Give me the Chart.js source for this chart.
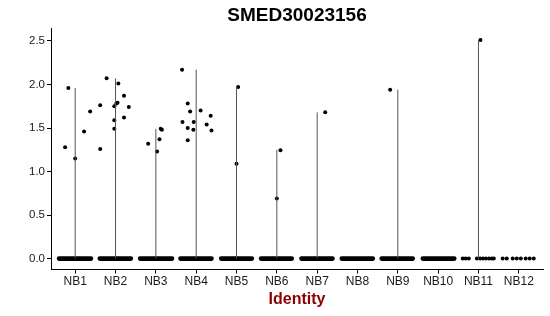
<!DOCTYPE html>
<html>
<head>
<meta charset="utf-8">
<script src="https://cdn.jsdelivr.net/npm/chart.js@4"></script>
<style>
  html, body { margin: 0; padding: 0; background: #fff; }
  #wrap { width: 550px; height: 316px; }
</style>
</head>
<body>
<div id="wrap"><canvas id="chart" width="550" height="316"></canvas></div>
<script>
// Data
const title = 'SMED30023156';
const groups = ['NB1', 'NB2', 'NB3', 'NB4', 'NB5', 'NB6', 'NB7', 'NB8', 'NB9', 'NB10', 'NB11', 'NB12'];
const violinTop = [1.96, 2.07, 1.49, 2.17, 1.97, 1.25, 1.68, 0, 1.94, 0, 2.51, 0];
const yTicks = [0, 0.5, 1.0, 1.5, 2.0, 2.5];

// Dense runs of zero values: jitter range of the points in each group (null = sparse)
const zeroFrom = [-0.40, -0.39, -0.39, -0.39, -0.38, -0.39, -0.39, -0.39, -0.40, -0.38, null, null];
const zeroTo   = [ 0.39,  0.38,  0.40,  0.38,  0.38,  0.37,  0.38,  0.38,  0.37,  0.40, null, null];

// Sparse zero points (NB11, NB12)
const zeroDotGroup  = [11, 11, 11, 11, 11, 11, 11, 11, 11, 11, 12, 12, 12, 12, 12, 12, 12, 12];
const zeroDotOffset = [-0.39, -0.32, -0.24, -0.04, 0.04, 0.11, 0.18, 0.26, 0.33, 0.38,
                       -0.40, -0.30, -0.15, -0.05, 0.05, 0.17, 0.27, 0.37];

// Expressing cells
const dotGroup = [1, 1, 1, 1, 1,
                  2, 2, 2, 2, 2, 2, 2, 2, 2, 2, 2, 2,
                  3, 3, 3, 3, 3,
                  4, 4, 4, 4, 4, 4, 4, 4, 4, 4, 4, 4,
                  5, 5, 6, 6, 7, 9, 11];
const dotOffset = [-0.25, -0.17, 0.00, 0.22, 0.37,
                   -0.22, -0.38, -0.38, 0.07, 0.21, 0.33, 0.05, 0.02, -0.03, -0.03, -0.03, 0.21,
                   -0.19, 0.03, 0.09, 0.12, 0.15,
                   -0.35, -0.21, -0.15, -0.34, -0.21, -0.06, -0.07, -0.21, 0.11, 0.36, 0.26, 0.38,
                   0.04, 0.00, 0.09, 0.00, 0.20, -0.19, 0.05];
const dotValue = [1.28, 1.96, 1.15, 1.46, 1.69,
                  2.07, 1.76, 1.26, 2.01, 1.87, 1.74, 1.79, 1.78, 1.75, 1.59, 1.49, 1.62,
                  1.32, 1.23, 1.37, 1.49, 1.48,
                  2.17, 1.78, 1.69, 1.57, 1.50, 1.57, 1.48, 1.36, 1.70, 1.64, 1.54, 1.47,
                  1.97, 1.09, 1.245, 0.69, 1.68, 1.94, 2.51];

Chart.defaults.font.family = "'Liberation Sans', Arial, sans-serif";

// Build datasets
const datasets = [];

// violins (all collapsed to a thin line)
violinTop.forEach((top, i) => {
    if (top <= 0) return;
    datasets.push({
        data: [{ x: i + 1, y: 0 }, { x: i + 1, y: top }],
        showLine: true, borderColor: '#555', borderWidth: 1, pointRadius: 0
    });
});

// zero runs
zeroFrom.forEach((from, i) => {
    if (from === null) return;
    datasets.push({
        data: [{ x: i + 1 + from, y: 0 }, { x: i + 1 + zeroTo[i], y: 0 }],
        showLine: true, borderColor: '#000', borderWidth: 4.6, borderCapStyle: 'round', pointRadius: 0
    });
});

// points
const pts = dotGroup.map((g, i) => ({ x: g + dotOffset[i], y: dotValue[i] }))
    .concat(zeroDotGroup.map((g, i) => ({ x: g + zeroDotOffset[i], y: 0 })));
datasets.push({
    data: pts, showLine: false, pointRadius: 2, pointBackgroundColor: '#000', pointBorderWidth: 0
});

new Chart(document.getElementById('chart'), {
    type: 'scatter',
    data: { datasets },
    options: {
        responsive: false,
        devicePixelRatio: 1,
        animation: false,
        layout: { padding: { left: 0, right: 7, top: 0, bottom: 0 } },
        plugins: {
            legend: { display: false },
            tooltip: { enabled: false },
            title: {
                display: true, text: title, color: '#000', fullSize: false,
                font: { size: 19, weight: 'bold' }, padding: { top: 4, bottom: 1.5 }
            }
        },
        scales: {
            x: {
                type: 'linear', min: 0.4, max: 12.6,
                afterBuildTicks: s => { s.ticks = groups.map((g, i) => ({ value: i + 1 })); },
                afterFit: s => { s.height = 46.5; },
                ticks: {
                    callback: (v, i) => groups[i], color: '#1a1a1a', font: { size: 12 },
                    padding: 1, autoSkip: false, maxRotation: 0
                },
                grid: { display: true, drawOnChartArea: false, tickLength: 4, tickColor: '#000', tickWidth: 1 },
                border: { display: true, color: '#000', width: 1 },
                title: {
                    display: true, text: 'Identity', color: '#8B0000',
                    font: { size: 16, weight: 'bold' }, padding: { top: 0, bottom: 7 }
                }
            },
            y: {
                min: -0.125, max: 2.645,
                afterBuildTicks: s => { s.ticks = yTicks.map(v => ({ value: v })); },
                afterFit: s => { s.width = 51; },
                ticks: { callback: v => v.toFixed(1), color: '#1a1a1a', font: { size: 11.5 }, padding: 2 },
                grid: { display: true, drawOnChartArea: false, tickLength: 4, tickColor: '#000', tickWidth: 1 },
                border: { display: true, color: '#000', width: 1 }
            }
        }
    }
});
</script>
</body>
</html>
